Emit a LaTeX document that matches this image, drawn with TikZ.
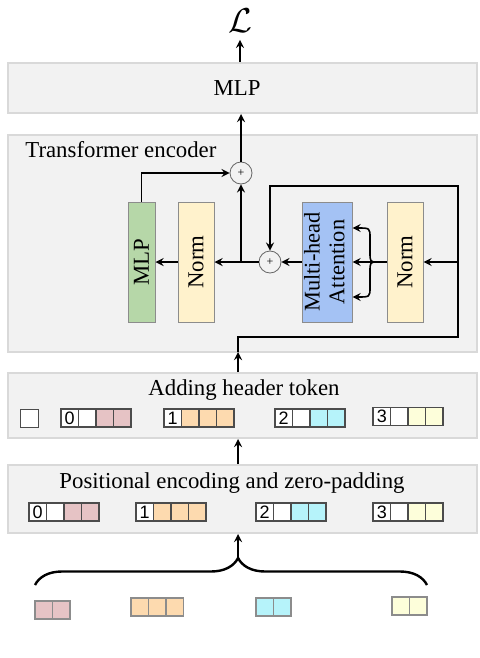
\documentclass[tikz,border=0pt]{standalone}
\usepackage{fontspec}
\setmainfont{Liberation Serif}
\newfontfamily\digitfont{Liberation Sans}
\usetikzlibrary{arrows.meta,decorations.pathreplacing}

\definecolor{boxgray}{HTML}{F2F2F2}
\definecolor{boxline}{HTML}{D9D9D9}
\definecolor{mlpgreen}{HTML}{B6D7A8}
\definecolor{normyellow}{HTML}{FFF2CC}
\definecolor{attnblue}{HTML}{A4C2F4}
\definecolor{tokpink}{RGB}{230,195,197}
\definecolor{tokorange}{RGB}{253,218,175}
\definecolor{tokcyan}{RGB}{182,243,250}
\definecolor{tokyellow}{RGB}{253,254,218}

\tikzset{
  stage/.style={draw=boxline, fill=boxgray, line width=1pt, minimum width=234.5pt, inner sep=0pt},
  layer/.style={draw=black!45, line width=0.5pt, minimum height=60pt, inner sep=0pt},
  addop/.style={circle, draw=black!60, line width=0.4pt, minimum size=11pt, inner sep=0pt, font=\fontsize{6}{6}\selectfont},
  cell/.style={draw=black!70, line width=0.6pt, minimum width=8.75pt, minimum height=9pt, inner sep=0pt},
  rawcell/.style={cell, draw=black!45},
  digit/.style={inner sep=0pt, font=\digitfont\fontsize{9}{9}\selectfont},
  flow/.style={->, thick},
}

%% 带编号的 token: 名字, 左端 x, 中心 y, 编号, 颜色
\newcommand{\tokbox}[5]{%
  \foreach \c [count=\i] in {#5}
    \node[cell, fill=\c] (#1-\i) at ({#2+17.5*\i-8.75}, #3) {};
  \node[digit] at (#1-1) {#4};
}
%% 原始输入 token
\newcommand{\rawbox}[4]{%
  \foreach \c [count=\i] in {#4}
    \node[rawcell, fill=\c] (#1-\i) at ({#2+17.5*\i-8.75}, #3) {};
}

\begin{document}
\begin{tikzpicture}[>=stealth, x=0.5pt, y=-0.5pt, font=\fontsize{11.4}{13}\selectfont]
\useasboundingbox (0,0) rectangle (479,658);

%% 四个灰色外框
\node[stage, minimum height=25pt] (mlpbox) at (242.5,88) {};
\node[stage, minimum height=108.5pt] (encbox) at (242.5,243.5) {};
\node[stage, minimum height=32.5pt] (headbox) at (242.5,405.5) {};
\node[stage, minimum height=34pt] (posbox) at (242.5,499) {};

\node (loss) at (240,21) {\fontsize{16}{16}\selectfont$\mathcal{L}$};
\node (mlptitle) at (237,88) {MLP};
\node[anchor=base west, inner sep=0pt] (enctitle) at (25,157) {Transformer encoder};
\node[anchor=base] (headtitle) at (244,395) {Adding header token};
\node[anchor=base] (postitle) at (232,488) {Positional encoding and zero-padding};

%% encoder 内部的层
\node[layer, fill=mlpgreen, minimum width=13.5pt] (mlp) at (141.5,262) {\rotatebox{90}{MLP}};
\node[layer, fill=normyellow, minimum width=18pt] (norma) at (196,262) {\rotatebox{90}{Norm}};
\node[layer, fill=attnblue, minimum width=25pt] (attn) at (327,262)
  {\rotatebox{90}{\fontsize{11.2}{12.4}\selectfont\begin{tabular}{@{}c@{}}Multi-head\\Attention\end{tabular}}};
\node[layer, fill=normyellow, minimum width=18pt] (normb) at (405,262) {\rotatebox{90}{Norm}};

\node[addop] (plusa) at (241,173) {+};
\node[addop] (plusb) at (270,262) {+};

%% 残差连接
\coordinate (encin) at (238,352);
\coordinate (loopa) at (458,337);
\coordinate (loopb) at (458,186);
\coordinate (fork) at (378,262);

\draw[flow] (encin) |- (loopa) -- (loopb) -| (plusb.north);
\draw[flow] (loopa |- normb) -- (normb.east);
\draw[thick] (normb.west) -- (fork);
\draw[flow] (fork) -- (attn.east);
\draw[flow] (fork) .. controls (370,262) .. (370,252) -- (370,238)
  .. controls (370,228) .. ([yshift=17pt]attn.east);
\draw[flow] (fork) .. controls (370,262) .. (370,272) -- (370,287)
  .. controls (370,297) .. ([yshift=-17.5pt]attn.east);
\draw[flow] (attn.west) -- (plusb.east);
\draw[flow] (plusb.west) -- (norma.east);
\draw[flow] (plusa |- plusb) -- (plusa.south);
\draw[flow] (norma.west) -- (mlp.east);
\draw[flow] (mlp.north) |- (plusa.west);
\draw[flow] (plusa.north) -- (plusa |- mlpbox.south);
\draw[flow] (mlpbox.north -| loss) -- (loss.south);

%% 各阶段之间
\draw[flow] (headbox.north -| encin) -- (encin);
\draw[flow] (posbox.north -| encin) -- (headbox.south -| encin);

%% tokens
\node[cell, fill=white] (blank) at (29.5,418.5) {};
\tokbox{ha}{61}{418}{0}{white,white,tokpink,tokpink}
\tokbox{hb}{164}{418}{1}{white,tokorange,tokorange,tokorange}
\tokbox{hc}{275}{418}{2}{white,white,tokcyan,tokcyan}
\tokbox{hd}{373}{416.5}{3}{white,white,tokyellow,tokyellow}

\tokbox{pa}{29}{512}{0}{white,white,tokpink,tokpink}
\tokbox{pb}{136}{512}{1}{white,tokorange,tokorange,tokorange}
\tokbox{pc}{256}{512}{2}{white,white,tokcyan,tokcyan}
\tokbox{pd}{373}{512}{3}{white,white,tokyellow,tokyellow}

\rawbox{ra}{35}{610}{tokpink,tokpink}
\rawbox{rb}{131}{607}{tokorange,tokorange,tokorange}
\rawbox{rc}{256}{607}{tokcyan,tokcyan}
\rawbox{rd}{392}{606}{tokyellow,tokyellow}

%% 大括号把输入合在一起
\coordinate (braceL) at (35,585);
\coordinate (braceR) at (427,585);
\coordinate (tip) at (238,558);
\draw[line width=1.2pt, decorate, decoration={brace, amplitude=13.5pt, aspect=0.518}] (braceL) -- (braceR);
\draw[flow] (tip) -- (posbox.south -| tip);
\end{tikzpicture}
\end{document}
